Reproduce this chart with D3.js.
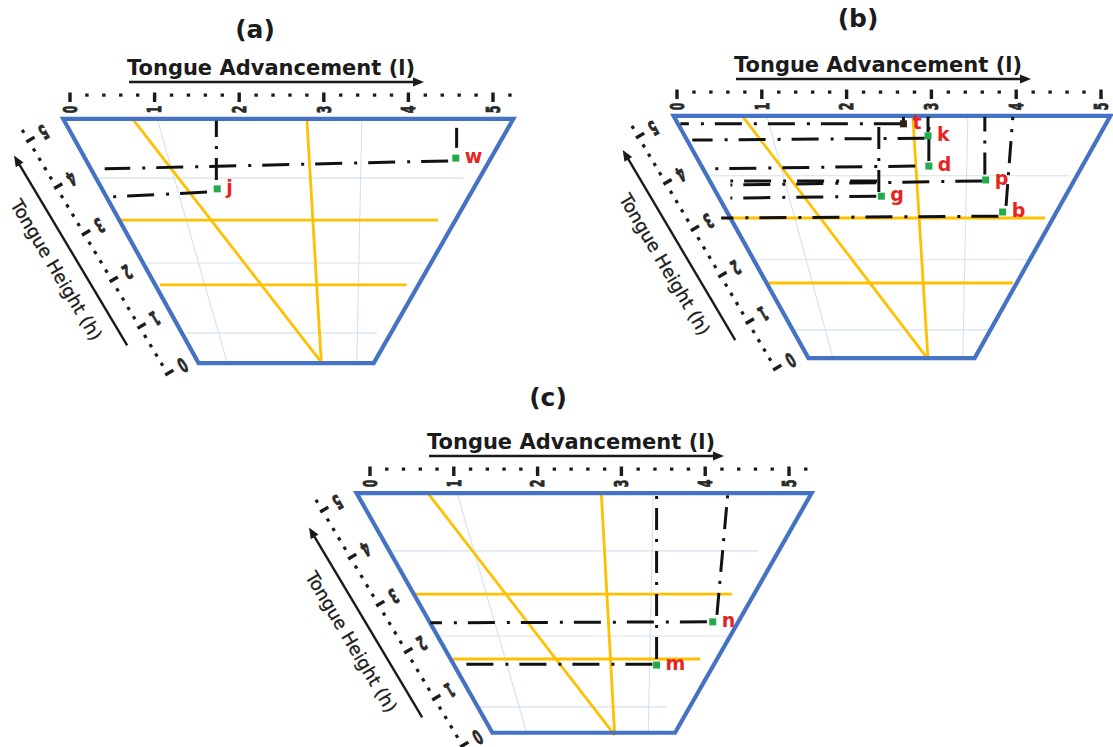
<!DOCTYPE html>
<html><head><meta charset="utf-8">
<script src="https://cdn.jsdelivr.net/npm/d3@7"></script>
<style>
html,body{margin:0;padding:0;background:#fff;}
svg{display:block;}
</style></head><body>
<svg id="chart" width="1113" height="747"></svg>
<script>
// Vowel charts: tongue advancement (l) across, tongue height (h) up, both 0..5.
const panelKeys = ["a", "b", "c"];
const panelTitles = ["(a)", "(b)", "(c)"];
const rulerTicks = d3.range(0, 27).map(i => i / 5);   // 0, 0.2, ... 5.2
const rulerLabels = [0, 1, 2, 3, 4, 5];
const titleL = "Tongue Advancement (l)";
const titleH = "Tongue Height (h)";

// Chart frame corners [l, h]
const frameA = [[-0.08, 5.28], [5.24, 5.28], [3.59, 0.04], [1.52, 0.04]];
const frameB = [[-0.04, 5.26], [5.11, 5.26], [3.51, 0.04], [1.55, 0.04]];
const frameC = [[-0.16, 5.19], [5.27, 5.19], [3.64, 0.09], [1.46, 0.09]];

// Reference (yellow) lines
const refA = [[[0.74, 5.28], [2.97, 0.06]], [[2.80, 5.28], [2.97, 0.06]],
              [[0.59, 3.11], [4.35, 3.11]], [[1.06, 1.72], [3.98, 1.72]]];
const refB = [[[0.77, 5.26], [2.96, 0.02]], [[2.78, 5.26], [2.96, 0.02]],
              [[0.59, 3.06], [4.34, 3.06]], [[1.06, 1.66], [3.96, 1.66]]];
const refC = [[[0.69, 5.19], [2.92, 0.04]], [[2.76, 5.19], [2.92, 0.04]],
              [[0.54, 3.04], [4.32, 3.04]], [[0.99, 1.66], [3.94, 1.66]]];

// Light grid lines
const gridA = [[[1.03, 5.28], [1.86, 0.04]], [[3.45, 5.28], [3.39, 0.04]],
               [[0.32, 4.01], [4.65, 4.01]], [[0.91, 2.19], [4.17, 2.19]], [[1.38, 0.69], [3.63, 0.69]]];
const gridB = [[[1.06, 5.26], [1.84, 0.04]], [[3.43, 5.26], [3.37, 0.04]],
               [[0.35, 3.97], [4.63, 3.97]], [[0.91, 2.16], [4.16, 2.16]], [[1.37, 0.65], [3.69, 0.65]]];
const gridC = [[[1.04, 5.19], [1.87, 0.09]], [[3.38, 5.19], [3.32, 0.09]],
               [[0.24, 3.96], [4.63, 3.96]], [[0.80, 2.15], [4.33, 2.15]], [[1.28, 0.64], [3.54, 0.64]]];

// Vowel positions
const vowelsA = [{v: "w", l: 4.56, h: 4.44}, {v: "j", l: 1.74, h: 3.78}];
const vowelsB = [{v: "t", l: 2.67, h: 5.09}, {v: "k", l: 2.96, h: 4.83}, {v: "d", l: 2.97, h: 4.18},
                 {v: "p", l: 3.64, h: 3.88}, {v: "g", l: 2.41, h: 3.53}, {v: "b", l: 3.84, h: 3.19}];
const vowelsC = [{v: "m", l: 3.42, h: 1.53}, {v: "n", l: 4.09, h: 2.45}];

// Dash-dot guides, drawn from the vowel outwards to the scales
const guidesA = [[[4.57, 4.66], [4.57, 5.09]], [[4.47, 4.38], [0.41, 4.21]],
                 [[1.73, 3.97], [1.73, 5.24]], [[1.62, 3.71], [0.51, 3.61]]];
const guidesB = [[[2.64, 5.09], [0.04, 5.09]], [[2.67, 5.09], [2.67, 5.24]],
                 [[2.92, 4.78], [0.18, 4.74]], [[2.96, 4.91], [2.96, 5.24]],
                 [[2.81, 4.18], [0.32, 4.12]], [[2.97, 4.29], [2.97, 5.24]],
                 [[3.60, 3.86], [0.63, 3.77]], [[3.63, 4.00], [3.63, 5.24]],
                 [[2.36, 3.86], [0.63, 3.86]],
                 [[2.35, 3.53], [0.63, 3.49]], [[2.38, 3.62], [2.38, 5.17]],
                 [[3.79, 3.10], [0.52, 3.06]], [[3.88, 3.32], [3.96, 5.24]]];
const guidesC = [[[3.42, 1.66], [3.42, 5.19]], [[3.37, 1.55], [1.10, 1.55]],
                 [[4.14, 2.60], [4.27, 5.19]], [[4.02, 2.45], [0.72, 2.43]]];

// Placement of each panel on the page
const layout = {
  a: {x0: 70, x5: 493, y0: 365, y5: 132, top: 119, hx: 182, hAngle: -120.8, tx: 255, ty: 38},
  b: {x0: 677, x5: 1101, y0: 360, y5: 128, top: 116, hx: 790, hAngle: -120.6, tx: 858, ty: 27},
  c: {x0: 370, x5: 789, y0: 737, y5: 502, top: 493, hx: 477, hAngle: -120.8, tx: 548, ty: 406}
};

const FONT = "'DejaVu Sans', Verdana, sans-serif";
const INK = "#1b1b1b";
const BLUE = "#4472c4", YELLOW = "#ffc000", GRID = "#d5e1ef";
const GREEN = "#22ab4c", RED = "#e8241f";

const svg = d3.select("#chart");

function drawRuler(sel, s, off) {
  const isMajor = d => Math.abs(d - Math.round(d)) < 1e-6;
  sel.selectAll("rect.tk").data(rulerTicks).join("rect")
    .attr("class", "tk")
    .attr("x", d => s(d) - 1.7)
    .attr("width", 3.4)
    .attr("y", d => isMajor(d) ? -16.5 - off : -15.5 - off)
    .attr("height", d => isMajor(d) ? 9.5 : 3.2)
    .attr("fill", INK);
  sel.selectAll("text.lb").data(rulerLabels).join("text")
    .attr("class", "lb")
    .attr("transform", d => `translate(${s(d)},0.5) rotate(-90) scale(0.55,1)`)
    .attr("text-anchor", "middle")
    .attr("dominant-baseline", "central")
    .attr("font-family", FONT).attr("font-weight", "bold").attr("font-size", 20)
    .attr("fill", "#2a2a2a").attr("stroke", "#2a2a2a").attr("stroke-width", 0.9)
    .text(d => d);
}

function arrowHead(sel, x, y) {
  sel.append("path")
    .attr("d", `M${x},${y} L${x - 11},${y - 4.5} L${x - 11},${y + 4.5} Z`)
    .attr("fill", INK);
}

function drawPanel(i, frame, refs, grid, vowels, guides) {
  const key = panelKeys[i];
  const L = layout[key];
  const x = d3.scaleLinear().domain([0, 5]).range([L.x0, L.x5]);
  const y = d3.scaleLinear().domain([0, 5]).range([L.y0, L.y5]);
  const line = d3.line().x(d => x(d[0])).y(d => y(d[1]));
  const g = svg.append("g").attr("class", "panel-" + key);

  g.selectAll("path.grid").data(grid).join("path")
    .attr("class", "grid").attr("d", line)
    .attr("fill", "none").attr("stroke", GRID).attr("stroke-width", 1.1);

  g.selectAll("path.ref").data(refs).join("path")
    .attr("class", "ref").attr("d", line)
    .attr("fill", "none").attr("stroke", YELLOW).attr("stroke-width", 2.8);

  g.append("path").datum(frame)
    .attr("d", d3.line().x(d => x(d[0])).y(d => y(d[1])).curve(d3.curveLinearClosed))
    .attr("fill", "none").attr("stroke", BLUE).attr("stroke-width", 4.2)
    .attr("stroke-linejoin", "miter");

  g.selectAll("path.guide").data(guides).join("path")
    .attr("class", "guide").attr("d", line)
    .attr("fill", "none").attr("stroke", "#111").attr("stroke-width", 3)
    .attr("stroke-dasharray", d => {
      const vertical = Math.abs(x(d[0][0]) - x(d[1][0])) < Math.abs(y(d[0][1]) - y(d[1][1]));
      return vertical ? "22,9,3,9" : "27,11,3,12";
    });

  g.selectAll("rect.vowel").data(vowels).join("rect")
    .attr("class", "vowel")
    .attr("x", d => x(d.l) - 3.5).attr("y", d => y(d.h) - 3.5)
    .attr("width", 7).attr("height", 7)
    .attr("fill", d => d.v === "t" ? "#2b2416" : GREEN);

  g.selectAll("text.vowel").data(vowels).join("text")
    .attr("class", "vowel")
    .attr("x", d => x(d.l) + 9).attr("y", d => y(d.h) + 5)
    .attr("font-family", FONT).attr("font-weight", "bold").attr("font-size", 19)
    .attr("fill", RED)
    .text(d => d.v);

  // advancement scale along the top
  const top = g.append("g").attr("transform", `translate(0,${L.top - 10})`);
  drawRuler(top, x, 0);
  g.append("line")
    .attr("x1", L.x0 + 59).attr("x2", L.x0 + 344)
    .attr("y1", L.top - 37).attr("y2", L.top - 37)
    .attr("stroke", INK).attr("stroke-width", 2.4);
  arrowHead(g, L.x0 + 354, L.top - 37);
  g.append("text")
    .attr("x", L.x0 + 201).attr("y", L.top - 44)
    .attr("text-anchor", "middle")
    .attr("font-family", FONT).attr("font-weight", "bold").attr("font-size", 21)
    .attr("fill", INK).text(titleL);

  // height scale along the slanted left side
  const rad = -L.hAngle * Math.PI / 180;
  const unit = (L.y0 - L.y5) / 5 / Math.sin(rad);
  const hs = d3.scaleLinear().domain([0, 5]).range([0, 5 * unit]);
  const left = g.append("g").attr("transform", `translate(${L.hx},${y(0)}) rotate(${L.hAngle})`);
  drawRuler(left, hs, 3);
  left.append("line")
    .attr("x1", 45).attr("x2", 256).attr("y1", -37).attr("y2", -37)
    .attr("stroke", INK).attr("stroke-width", 2.4);
  arrowHead(left, 266, -37);
  left.append("text")
    .attr("transform", `translate(146,-59) rotate(180)`)
    .attr("text-anchor", "middle").attr("dominant-baseline", "central")
    .attr("font-family", FONT).attr("font-size", 18)
    .attr("fill", INK).attr("stroke", INK).attr("stroke-width", 0.3)
    .text(titleH);

  // panel title
  g.append("text")
    .attr("x", L.tx).attr("y", L.ty)
    .attr("text-anchor", "middle")
    .attr("font-family", FONT).attr("font-weight", "bold").attr("font-size", 25)
    .attr("fill", INK).text(panelTitles[i]);
}

drawPanel(0, frameA, refA, gridA, vowelsA, guidesA);
drawPanel(1, frameB, refB, gridB, vowelsB, guidesB);
drawPanel(2, frameC, refC, gridC, vowelsC, guidesC);
</script>
</body></html>
